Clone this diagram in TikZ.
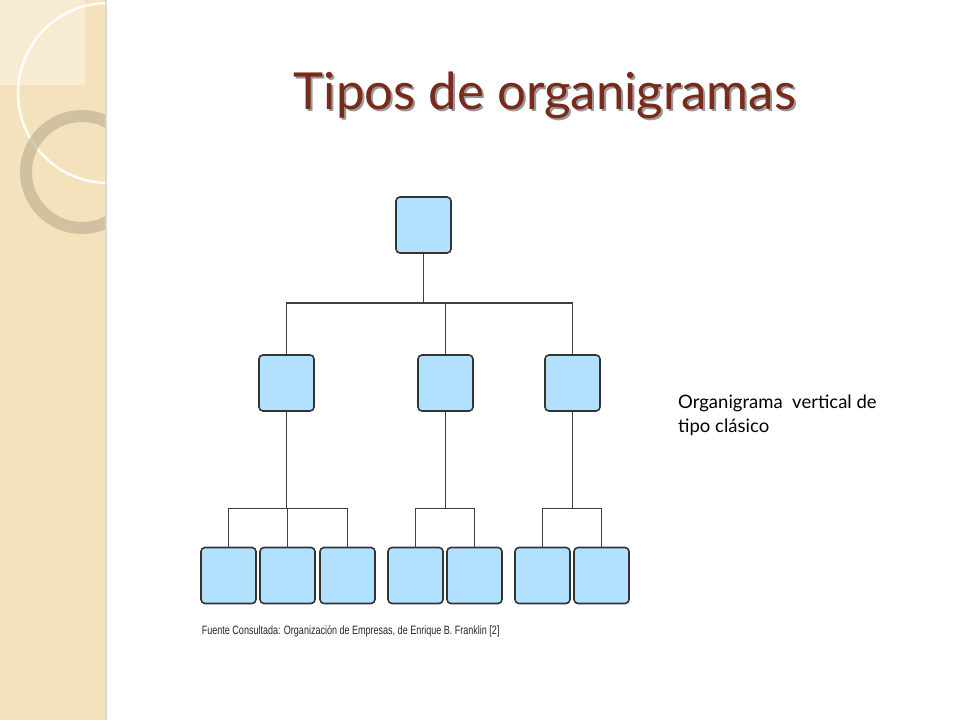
\documentclass[tikz,border=0pt]{standalone}
\usepackage{fontspec}
\setmainfont{Lato}
\newfontfamily\arialf{Liberation Sans}
\begin{document}
\begin{tikzpicture}[x=1pt,y=-1pt,
  bx/.style={draw=black!80,line width=1.6pt,fill=blue!40!cyan!30!white,rounded corners=4pt,minimum width=55pt,minimum height=56pt,inner sep=0pt},
  ln/.style={draw=black!75,line width=1.2pt}]
\definecolor{strip}{HTML}{F3E2BC}
\definecolor{titlec}{HTML}{7A2A1A}
\fill[white] (0,0) rectangle (960,720);
\fill[strip] (0,0) rectangle (105,720);
\fill[black!15] (105,0) rectangle (107,720);
\begin{scope}
\clip (0,0) rectangle (105,720);
\fill[white,opacity=0.35] (0,0) rectangle (85,85);
\draw[white,line width=2.5pt,opacity=0.9] (108,93) circle (90);
\draw[black!20!strip,line width=12pt,opacity=0.7] (82,172) circle (56);
\end{scope}
\node[text=black!40,font=\fontsize{51}{56}\selectfont] at (547,97) {Tipos de organigramas};
\node[text=titlec,font=\fontsize{51}{56}\selectfont] (title) at (545,95) {Tipos de organigramas};
% boxes
\node[bx] (r) at (423.5,225) {};
\node[bx] (a) at (286.5,383) {};
\node[bx] (b) at (445.5,383) {};
\node[bx] (c) at (572.5,383) {};
\node[bx] (a1) at (228.5,575.5) {};
\node[bx] (a2) at (287.5,575.5) {};
\node[bx] (a3) at (347.5,575.5) {};
\node[bx] (b1) at (415.5,575.5) {};
\node[bx] (b2) at (474.5,575.5) {};
\node[bx] (c1) at (542.5,575.5) {};
\node[bx] (c2) at (601.5,575.5) {};
\coordinate (t) at (423.5,303);
\draw[ln] (r.south) -- (t);
\draw[ln] (a.north) |- (t) -| (c.north);
\draw[ln] (b.north) -- (b.north |- t);
\draw[ln] (a.south) -- ++(0,97) coordinate (ab);
\draw[ln] (a1.north) |- (ab) -| (a3.north);
\draw[ln] (a2.north) -- (a2.north |- ab);
\draw[ln] (b.south) -- ++(0,97) coordinate (bb);
\draw[ln] (b1.north) |- (bb) -| (b2.north);
\draw[ln] (c.south) -- ++(0,97) coordinate (cb);
\draw[ln] (c1.north) |- (cb) -| (c2.north);
\node[anchor=west,font=\arialf\fontsize{11}{13}\selectfont,xscale=0.82,yscale=1.1,text=black!85] (src) at (199,631) {Fuente Consultada: Organización de Empresas, de Enrique B. Franklin [2]};
\node[anchor=north west,align=left,font=\fontsize{18.5}{24}\selectfont,inner sep=0pt] (lbl) at (678,395) {Organigrama\ \ vertical de\\tipo clásico};
\end{tikzpicture}
\end{document}
